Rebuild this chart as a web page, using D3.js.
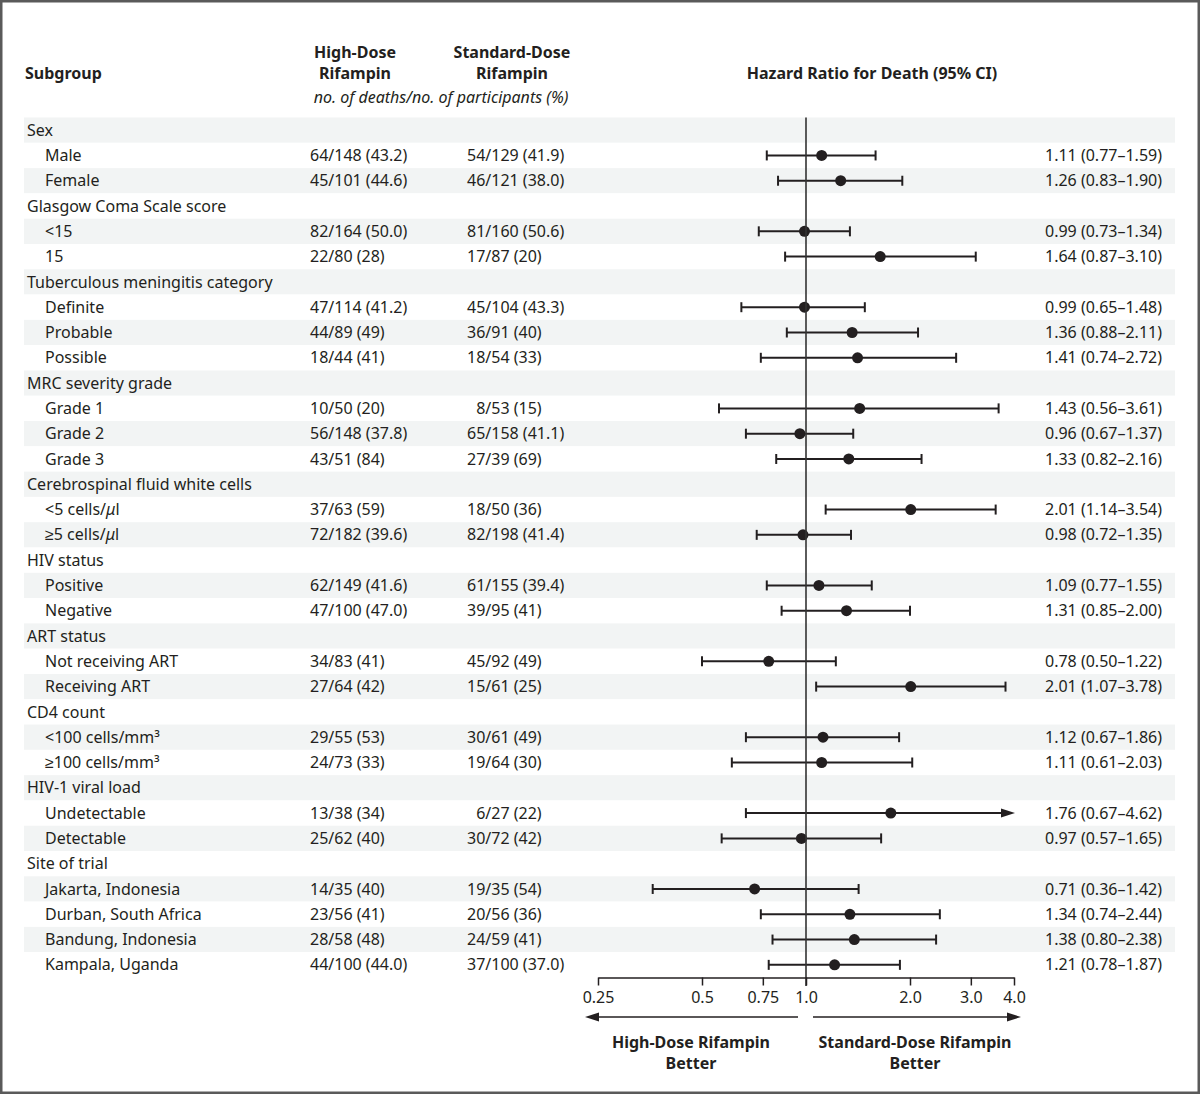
<!DOCTYPE html>
<meta charset="UTF-8">
<style>
  html, body { margin: 0; padding: 0; background: #fff; }
  svg { display: block; font-family: "Noto Sans", sans-serif; }
  text { fill: #231f20; }
</style>
<svg xmlns="http://www.w3.org/2000/svg" width="1200" height="1094"></svg>
<script src="https://d3js.org/d3.v7.min.js"></script>
<script>
  const WIDTH = 1200, HEIGHT = 1094;

  // rows: label, level (0 = category heading), high-dose, standard-dose, hr, lo, hi
  const labels = [
    'Sex', 'Male', 'Female',
    'Glasgow Coma Scale score', '<15', '15',
    'Tuberculous meningitis category', 'Definite', 'Probable', 'Possible',
    'MRC severity grade', 'Grade 1', 'Grade 2', 'Grade 3',
    'Cerebrospinal fluid white cells', '<5 cells/μl', '≥5 cells/μl',
    'HIV status', 'Positive', 'Negative',
    'ART status', 'Not receiving ART', 'Receiving ART',
    'CD4 count', '<100 cells/mm³', '≥100 cells/mm³',
    'HIV-1 viral load', 'Undetectable', 'Detectable',
    'Site of trial', 'Jakarta, Indonesia', 'Durban, South Africa', 'Bandung, Indonesia', 'Kampala, Uganda'
  ];
  const isHeading = [
    1, 0, 0,
    1, 0, 0,
    1, 0, 0, 0,
    1, 0, 0, 0,
    1, 0, 0,
    1, 0, 0,
    1, 0, 0,
    1, 0, 0,
    1, 0, 0,
    1, 0, 0, 0, 0
  ];
  const highDose = [
    '', '64/148 (43.2)', '45/101 (44.6)',
    '', '82/164 (50.0)', '22/80 (28)',
    '', '47/114 (41.2)', '44/89 (49)', '18/44 (41)',
    '', '10/50 (20)', '56/148 (37.8)', '43/51 (84)',
    '', '37/63 (59)', '72/182 (39.6)',
    '', '62/149 (41.6)', '47/100 (47.0)',
    '', '34/83 (41)', '27/64 (42)',
    '', '29/55 (53)', '24/73 (33)',
    '', '13/38 (34)', '25/62 (40)',
    '', '14/35 (40)', '23/56 (41)', '28/58 (48)', '44/100 (44.0)'
  ];
  const standardDose = [
    '', '54/129 (41.9)', '46/121 (38.0)',
    '', '81/160 (50.6)', '17/87 (20)',
    '', '45/104 (43.3)', '36/91 (40)', '18/54 (33)',
    '', '\u20078/53 (15)', '65/158 (41.1)', '27/39 (69)',
    '', '18/50 (36)', '82/198 (41.4)',
    '', '61/155 (39.4)', '39/95 (41)',
    '', '45/92 (49)', '15/61 (25)',
    '', '30/61 (49)', '19/64 (30)',
    '', '\u20076/27 (22)', '30/72 (42)',
    '', '19/35 (54)', '20/56 (36)', '24/59 (41)', '37/100 (37.0)'
  ];
  const hr = [
    null, 1.11, 1.26,
    null, 0.99, 1.64,
    null, 0.99, 1.36, 1.41,
    null, 1.43, 0.96, 1.33,
    null, 2.01, 0.98,
    null, 1.09, 1.31,
    null, 0.78, 2.01,
    null, 1.12, 1.11,
    null, 1.76, 0.97,
    null, 0.71, 1.34, 1.38, 1.21
  ];
  const lower = [
    null, 0.77, 0.83,
    null, 0.73, 0.87,
    null, 0.65, 0.88, 0.74,
    null, 0.56, 0.67, 0.82,
    null, 1.14, 0.72,
    null, 0.77, 0.85,
    null, 0.50, 1.07,
    null, 0.67, 0.61,
    null, 0.67, 0.57,
    null, 0.36, 0.74, 0.80, 0.78
  ];
  const upper = [
    null, 1.59, 1.90,
    null, 1.34, 3.10,
    null, 1.48, 2.11, 2.72,
    null, 3.61, 1.37, 2.16,
    null, 3.54, 1.35,
    null, 1.55, 2.00,
    null, 1.22, 3.78,
    null, 1.86, 2.03,
    null, 4.62, 1.65,
    null, 1.42, 2.44, 2.38, 1.87
  ];
  const tickValues = [0.25, 0.5, 0.75, 1, 2, 3, 4];
  const tickLabels = ['0.25', '0.5', '0.75', '1.0', '2.0', '3.0', '4.0'];

  const fmt = d3.format('.2f');
  const rows = labels.map((label, i) => ({
    label, heading: !!isHeading[i], high: highDose[i], std: standardDose[i],
    hr: hr[i], lo: lower[i], hi: upper[i]
  }));

  const svg = d3.select('svg');

  // frame
  svg.append('rect')
    .attr('x', 1).attr('y', 1)
    .attr('width', WIDTH - 2).attr('height', HEIGHT - 2)
    .attr('fill', 'none').attr('stroke', '#5a5a5a').attr('stroke-width', 3);

  const y = d3.scaleBand()
    .domain(d3.range(rows.length))
    .range([117.5, 977.5]);

  const x = d3.scaleLog().base(2)
    .domain([0.25, 4])
    .range([598, 1014]);

  // row banding
  svg.append('g').selectAll('rect')
    .data(rows)
    .join('rect')
      .attr('x', 24)
      .attr('width', 1151)
      .attr('y', (_, i) => y(i))
      .attr('height', y.bandwidth())
      .attr('fill', (_, i) => i % 2 === 0 ? '#f2f4f4' : '#fff');

  // headers
  const header = svg.append('g').attr('font-size', 16);
  header.append('text').attr('x', 25).attr('y', 79)
    .attr('font-weight', 'bold').text('Subgroup');
  header.append('text').attr('x', 355).attr('y', 58)
    .attr('font-weight', 'bold').attr('text-anchor', 'middle').text('High-Dose');
  header.append('text').attr('x', 355).attr('y', 79)
    .attr('font-weight', 'bold').attr('text-anchor', 'middle').text('Rifampin');
  header.append('text').attr('x', 512).attr('y', 58)
    .attr('font-weight', 'bold').attr('text-anchor', 'middle').text('Standard-Dose');
  header.append('text').attr('x', 512).attr('y', 79)
    .attr('font-weight', 'bold').attr('text-anchor', 'middle').text('Rifampin');
  header.append('text').attr('x', 441).attr('y', 103)
    .attr('font-style', 'italic').attr('text-anchor', 'middle')
    .text('no. of deaths/no. of participants (%)');
  header.append('text').attr('x', 872).attr('y', 79)
    .attr('font-weight', 'bold').attr('text-anchor', 'middle')
    .text('Hazard Ratio for Death (95% CI)');

  // table text
  const rowG = svg.append('g').attr('font-size', 16)
    .selectAll('g')
    .data(rows)
    .join('g')
      .attr('transform', (_, i) => `translate(0,${y(i) + y.bandwidth() / 2})`);

  rowG.append('text')
    .attr('x', d => d.heading ? 27 : 45)
    .attr('dy', '0.35em')
    .each(function(d) {
      const t = d3.select(this);
      if (d.label.includes('μ')) {
        const [a, b] = d.label.split('μ');
        t.append('tspan').text(a);
        t.append('tspan').attr('font-style', 'italic').text('μ');
        t.append('tspan').text(b);
      } else {
        t.text(d.label);
      }
    });

  rowG.filter(d => !d.heading).append('text')
    .attr('x', 310).attr('dy', '0.35em').text(d => d.high);
  rowG.filter(d => !d.heading).append('text')
    .attr('x', 467).attr('dy', '0.35em').text(d => d.std);
  rowG.filter(d => !d.heading).append('text')
    .attr('x', 1162).attr('dy', '0.35em').attr('text-anchor', 'end')
    .text(d => `${fmt(d.hr)} (${fmt(d.lo)}\u2013${fmt(d.hi)})`);

  // reference line
  svg.append('line')
    .attr('x1', x(1)).attr('x2', x(1))
    .attr('y1', 117.5).attr('y2', 986)
    .attr('stroke', '#333').attr('stroke-width', 1.6);

  // CIs
  const ci = rowG.filter(d => !d.heading).append('g')
    .attr('stroke', '#231f20').attr('stroke-width', 2);

  ci.append('line')
    .attr('x1', d => x(d.lo))
    .attr('x2', d => d.hi > 4 ? x(4) - 10 : x(d.hi));
  ci.append('line')
    .attr('x1', d => x(d.lo)).attr('x2', d => x(d.lo))
    .attr('y1', -5).attr('y2', 5);
  ci.filter(d => d.hi <= 4).append('line')
    .attr('x1', d => x(d.hi)).attr('x2', d => x(d.hi))
    .attr('y1', -5).attr('y2', 5);
  ci.filter(d => d.hi > 4).append('path')
    .attr('stroke', 'none').attr('fill', '#231f20')
    .attr('d', () => `M${x(4) - 13},-4.5L${x(4) + 1},0L${x(4) - 13},4.5Z`);
  ci.append('circle')
    .attr('cx', d => x(d.hr)).attr('r', 5.5)
    .attr('stroke', 'none').attr('fill', '#231f20');

  // axis
  const axis = svg.append('g')
    .attr('transform', 'translate(0,977.5)')
    .call(d3.axisBottom(x)
      .tickValues(tickValues)
      .tickFormat((_, i) => tickLabels[i])
      .tickSize(8).tickSizeOuter(0).tickPadding(6));
  axis.attr('font-family', '"Noto Sans", sans-serif').attr('font-size', 16);
  axis.selectAll('path, line').attr('stroke', '#231f20').attr('stroke-width', 1.5);
  axis.selectAll('text').attr('fill', '#231f20');

  // direction arrows
  const arrowY = 1017;
  const arrows = svg.append('g').attr('stroke', '#231f20').attr('stroke-width', 1.5);
  arrows.append('line').attr('x1', 798).attr('x2', 596).attr('y1', arrowY).attr('y2', arrowY);
  arrows.append('line').attr('x1', 813).attr('x2', 1010).attr('y1', arrowY).attr('y2', arrowY);
  arrows.append('path').attr('stroke', 'none').attr('fill', '#231f20')
    .attr('d', `M585,${arrowY}L599,${arrowY - 4.5}L599,${arrowY + 4.5}Z`);
  arrows.append('path').attr('stroke', 'none').attr('fill', '#231f20')
    .attr('d', `M1021,${arrowY}L1007,${arrowY - 4.5}L1007,${arrowY + 4.5}Z`);

  const foot = svg.append('g').attr('font-size', 16).attr('font-weight', 'bold')
    .attr('text-anchor', 'middle');
  foot.append('text').attr('x', 691).attr('y', 1048).text('High-Dose Rifampin');
  foot.append('text').attr('x', 691).attr('y', 1069).text('Better');
  foot.append('text').attr('x', 915).attr('y', 1048).text('Standard-Dose Rifampin');
  foot.append('text').attr('x', 915).attr('y', 1069).text('Better');
</script>
